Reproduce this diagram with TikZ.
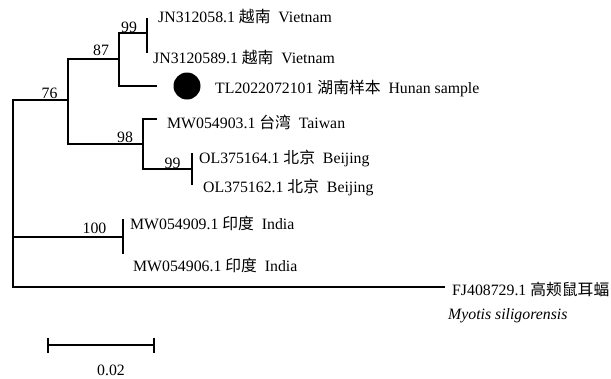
\documentclass[tikz,border=0pt]{standalone}
\usepackage{fontspec}
\setmainfont{Liberation Serif}
\newfontfamily\cjk{Noto Sans CJK SC}
\usetikzlibrary{positioning,calc}

\begin{document}
\begin{tikzpicture}[x=1pt,y=-1pt,
    branch/.style={line width=1.4pt},
    leaf/.style={anchor=base west,inner sep=0pt,
                 font=\fontsize{15.8}{19}\selectfont},
    boot/.style={anchor=base,inner sep=0pt,
                 font=\fontsize{15.8}{19}\selectfont},
    sampledot/.style={circle,fill=black,minimum size=27pt,inner sep=0pt}]
  \useasboundingbox (0,0) rectangle (611,378);
  % internal nodes
  \coordinate (root) at (13,193);
  \coordinate (n76) at (68,100);
  \coordinate (n87) at (119,59);
  \coordinate (n99a) at (147,33);
  \coordinate (n98) at (143,144);
  \coordinate (n99b) at (192,169);
  \coordinate (n100) at (123,237);
  % tips
  \coordinate (jn1) at (147,18);
  \coordinate (jn2) at (147,53);
  \coordinate (tl) at (157,86);
  \coordinate (mw3) at (157,119);
  \coordinate (ol4) at (192,153);
  \coordinate (ol2) at (192,185);
  \coordinate (mw9) at (123,219);
  \coordinate (mw6) at (123,254);
  \coordinate (fj) at (445,287);
  % branches
  \draw[branch] (root) |- (n76);
  \draw[branch] (root) |- (n100);
  \draw[branch] (root) |- (fj);
  \draw[branch] (n76) |- (n87);
  \draw[branch] (n76) |- (n98);
  \draw[branch] (n87) |- (n99a);
  \draw[branch] (n87) |- (tl);
  \draw[branch] (n99a) |- (jn1);
  \draw[branch] (n99a) |- (jn2);
  \draw[branch] (n98) |- (mw3);
  \draw[branch] (n98) |- (n99b);
  \draw[branch] (n99b) |- (ol4);
  \draw[branch] (n99b) |- (ol2);
  \draw[branch] (n100) |- (mw9);
  \draw[branch] (n100) |- (mw6);
  % bootstrap values
  \node[boot] (b76) at (49.5,98) {76};
  \node[boot] (b87) at (101,55) {87};
  \node[boot] (b99a) at (129,32) {99};
  \node[boot] (b98) at (125,142) {98};
  \node[boot] (b99b) at (172.5,168) {99};
  \node[boot] (b100) at (94.5,233) {100};
  % sample marker
  \node[sampledot] (dot) at (187,86) {};
  % leaf labels
  \node[leaf] (jn1lab) at (158,22) {JN312058.1 {\cjk 越南}\ \ Vietnam};
  \node[leaf] (jn2lab) at (153,63) {JN3120589.1 {\cjk 越南}\ \ Vietnam};
  \node[leaf] (tllab) at (215,93) {TL2022072101 {\cjk 湖南样本}\ \ Hunan sample};
  \node[leaf] (mw3lab) at (167,128) {MW054903.1 {\cjk 台湾}\ \ Taiwan};
  \node[leaf] (ol4lab) at (199,163) {OL375164.1 {\cjk 北京}\ \ Beijing};
  \node[leaf] (ol2lab) at (203,192) {OL375162.1 {\cjk 北京}\ \ Beijing};
  \node[leaf] (mw9lab) at (130,229) {MW054909.1 {\cjk 印度}\ \ India};
  \node[leaf] (mw6lab) at (133,271.5) {MW054906.1 {\cjk 印度}\ \ India};
  \node[leaf] (fjlab) at (452,295) {FJ408729.1 {\cjk 高颊鼠耳蝠}};
  \node[leaf] (fjsp) at (448,319) {\itshape Myotis siligorensis};
  % scale bar
  \coordinate (sbl) at (48,345);
  \coordinate (sbr) at (154,345);
  \draw[branch] (sbl) -- (sbr);
  \draw[branch] ($(sbl)+(0,-7)$) -- ($(sbl)+(0,8)$);
  \draw[branch] ($(sbr)+(0,-7)$) -- ($(sbr)+(0,8)$);
  \node[boot] (sblab) at (111,375) {0.02};
\end{tikzpicture}
\end{document}
